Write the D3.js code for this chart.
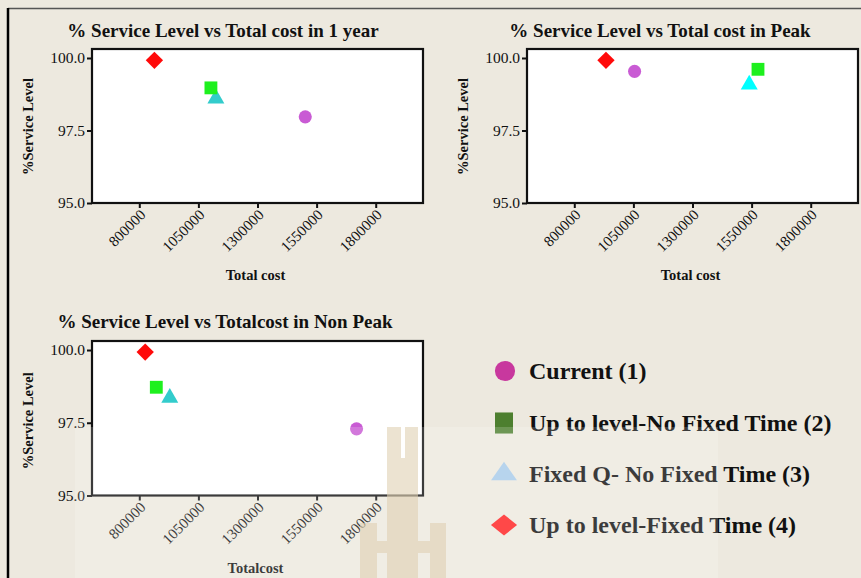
<!DOCTYPE html>
<html>
<head>
<meta charset="utf-8">
<script src="https://cdn.jsdelivr.net/npm/d3@7"></script>
<style>
  html, body { margin: 0; padding: 0; background: #ede9df; }
  svg { display: block; }
  text { font-family: "Liberation Serif", "Times New Roman", serif; fill: #111; }
</style>
</head>
<body>
<svg id="chart" width="861" height="578"></svg>
<script>
// Series shown in every panel (same order everywhere)
const seriesNames = ["Current (1)", "Up to level-No Fixed Time (2)", "Fixed Q- No Fixed Time (3)", "Up to level-Fixed Time (4)"];

// Whole year
const yearCost  = [1502000, 1103000, 1124000, 864000];
const yearLevel = [97.97, 98.97, 98.60, 99.92];

// Peak season
const peakCost  = [1055000, 1577000, 1540000, 934000];
const peakLevel = [99.54, 99.61, 99.08, 99.92];

// Non-peak season
const nonPeakCost  = [1719000, 872000, 929000, 825000];
const nonPeakLevel = [97.29, 98.72, 98.36, 99.93];

// Axis ticks
const costTicks  = [800000, 1050000, 1300000, 1550000, 1800000];
const levelTicks = [95.0, 97.5, 100.0];

const svg = d3.select("#chart");

// outer frame (top and left rules)
svg.append("line").attr("x1", 8).attr("x2", 861).attr("y1", 8.5).attr("y2", 8.5)
  .attr("stroke", "#555").attr("stroke-width", 1.5);
svg.append("line").attr("x1", 8).attr("x2", 8).attr("y1", 8).attr("y2", 578)
  .attr("stroke", "#000").attr("stroke-width", 2.5);

const markerColors = ["#c95bd4", "#1ef01e", "#33cccc", "#ff0a0a"];
const symbolFor = [
  { type: d3.symbolCircle,   size: 135, rot: 0 },
  { type: d3.symbolSquare,   size: 165, rot: 0 },
  { type: d3.symbolTriangle, size: 125, rot: 0 },
  { type: d3.symbolSquare,   size: 150, rot: 45 }
];
const drawOrder = [0, 2, 1, 3];

const panels = [
  { title: "% Service Level vs Total cost in 1 year", xLabel: "Total cost",
    cost: yearCost, level: yearLevel,
    left: 92, right: 423, top: 49, bottom: 203, titleX: 223, titleY: 37, triColor: "#33cccc" },
  { title: "% Service Level vs Total cost in Peak", xLabel: "Total cost",
    cost: peakCost, level: peakLevel,
    left: 527, right: 858, top: 49, bottom: 203, titleX: 660, titleY: 37, triColor: "#00ffff" },
  { title: "% Service Level vs Totalcost in Non Peak", xLabel: "Totalcost",
    cost: nonPeakCost, level: nonPeakLevel,
    left: 92, right: 423, top: 341, bottom: 495.5, titleX: 225, titleY: 328, triColor: "#33cccc" }
];

panels.forEach(p => {
  const g = svg.append("g");
  const x = d3.scaleLinear().domain([600000, 2000000]).range([p.left, p.right]);
  const y = d3.scaleLinear().domain([95, 100.31]).range([p.bottom, p.top]);

  g.append("rect")
    .attr("x", p.left).attr("y", p.top)
    .attr("width", p.right - p.left).attr("height", p.bottom - p.top)
    .attr("fill", "#fff");

  // x axis
  const xAxis = g.append("g")
    .attr("transform", `translate(0,${p.bottom})`)
    .call(d3.axisBottom(x).tickValues(costTicks).tickFormat(d3.format("d")).tickSize(5).tickSizeOuter(0));
  xAxis.select(".domain").remove();
  xAxis.selectAll(".tick line").attr("stroke", "#111").attr("stroke-width", 2);
  xAxis.selectAll(".tick text")
    .attr("font-size", 15)
    .attr("font-family", "Liberation Serif, serif")
    .attr("fill", "#222")
    .attr("text-anchor", "end")
    .attr("x", 0).attr("y", 0).attr("dy", "0.35em")
    .attr("transform", "translate(3,9) rotate(-45)");

  // y axis
  const yAxis = g.append("g")
    .attr("transform", `translate(${p.left},0)`)
    .call(d3.axisLeft(y).tickValues(levelTicks).tickFormat(d3.format(".1f")).tickSize(5).tickSizeOuter(0));
  yAxis.select(".domain").remove();
  yAxis.selectAll(".tick line").attr("stroke", "#111").attr("stroke-width", 2);
  yAxis.selectAll(".tick text")
    .attr("font-size", 15.5)
    .attr("font-family", "Liberation Serif, serif")
    .attr("fill", "#222")
    .attr("x", -7);

  // plot border
  g.append("rect")
    .attr("x", p.left).attr("y", p.top)
    .attr("width", p.right - p.left).attr("height", p.bottom - p.top)
    .attr("fill", "none").attr("stroke", "#111").attr("stroke-width", 2.2);

  // points
  drawOrder.forEach(i => {
    const s = symbolFor[i];
    g.append("path")
      .attr("d", d3.symbol().type(s.type).size(s.size)())
      .attr("transform", `translate(${x(p.cost[i])},${y(p.level[i])}) rotate(${s.rot})`)
      .attr("fill", i === 2 ? p.triColor : markerColors[i]);
  });

  // titles
  g.append("text")
    .attr("x", p.titleX).attr("y", p.titleY)
    .attr("text-anchor", "middle")
    .attr("font-size", 19).attr("font-weight", "bold")
    .text(p.title);

  const midY = (y(95) + y(100)) / 2 + (p.top === 49 ? -4 : -2);
  g.append("text")
    .attr("transform", `translate(${p.left - 59},${midY}) rotate(-90)`)
    .attr("text-anchor", "middle")
    .attr("font-size", 14.5).attr("font-weight", "bold")
    .text("%Service Level");

  g.append("text")
    .attr("x", (p.left + p.right) / 2 - 2).attr("y", p.bottom + 77)
    .attr("text-anchor", "middle")
    .attr("font-size", 14.5).attr("font-weight", "bold")
    .text(p.xLabel);
});

// legend
const legendColors = ["#c8389e", "#4d7f2f", "#a8cbe9", "#ff2020"];
const legendY = [371, 423, 474, 525];
const legend = svg.append("g");
seriesNames.forEach((name, i) => {
  let sym;
  if (i === 0) sym = { d: d3.symbol().type(d3.symbolCircle).size(320)(), t: "" };
  if (i === 1) sym = { d: d3.symbol().type(d3.symbolSquare).size(324)(), t: " scale(1,1.17)" };
  if (i === 2) sym = { d: d3.symbol().type(d3.symbolTriangle).size(290)(), t: " scale(1,0.82)" };
  if (i === 3) sym = { d: d3.symbol().type(d3.symbolSquare).size(222)(), t: " scale(1.24,1) rotate(45)" };
  legend.append("path")
    .attr("d", sym.d)
    .attr("transform", `translate(${i === 0 ? 505 : 504},${legendY[i]})${sym.t}`)
    .attr("fill", legendColors[i]);
  legend.append("text")
    .attr("x", 529).attr("y", legendY[i] + 8)
    .attr("font-size", 24).attr("font-weight", "bold")
    .text(name);
});

// faint emblem and light panel behind the lower area
const emblem = svg.append("g").attr("fill", "#d8c7a2").attr("opacity", 0.6);
emblem.append("path").attr("d",
  "M387,427 H401 V458 H405 V427 H418 V578 H387 Z" +
  "M360,523 H377 V541 H387 V553 H377 V578 H360 Z" +
  "M430,523 H446 V578 H430 V553 H418 V541 H430 Z");
svg.append("rect")
  .attr("x", 75).attr("y", 427).attr("width", 643).attr("height", 151)
  .attr("fill", "#fff").attr("opacity", 0.18);
</script>
</body>
</html>
